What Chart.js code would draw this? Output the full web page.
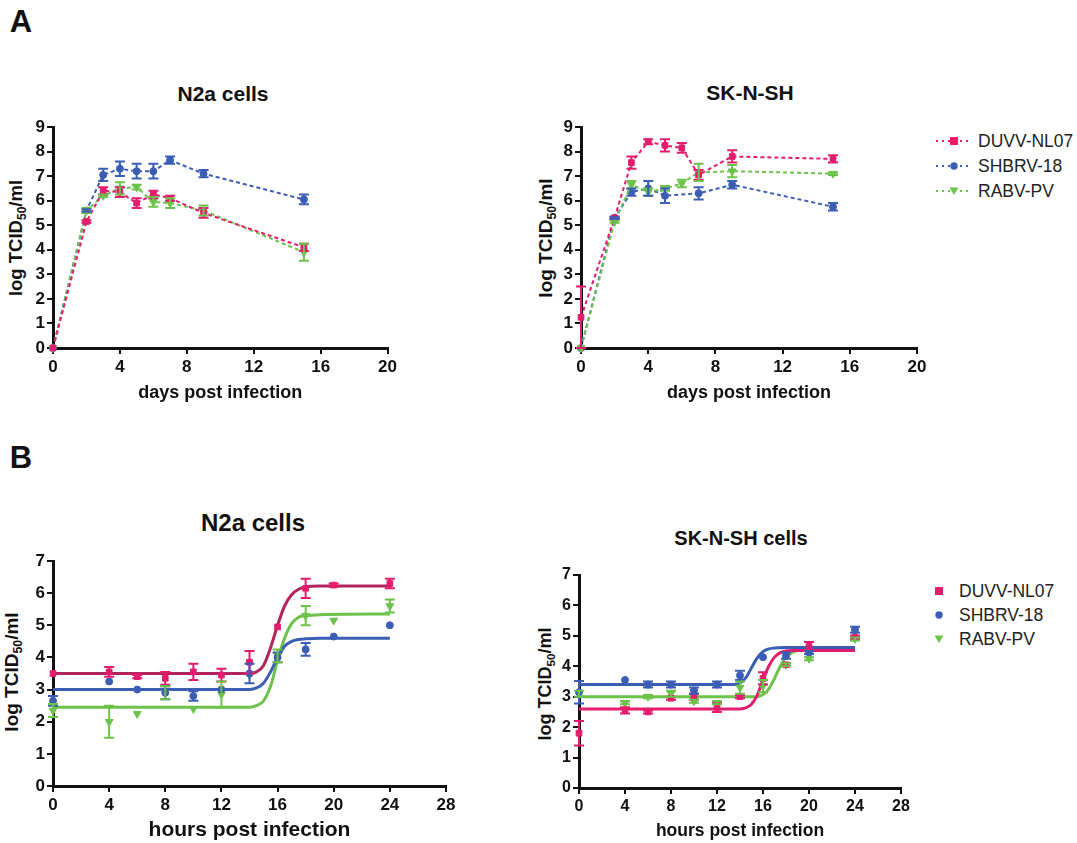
<!DOCTYPE html>
<html>
<head>
<meta charset="utf-8">
<script src="https://cdn.jsdelivr.net/npm/chart.js@4.4.1/dist/chart.umd.min.js"></script>
<style>
  body { margin: 0; background: #fff; font-family: "Liberation Sans", Arial, sans-serif; }
  #page { position: relative; width: 1077px; height: 843px; overflow: hidden; background: #fff; }
  canvas { position: absolute; }
  .txt { position: absolute; transform: translate(-50%, -50%); white-space: nowrap; line-height: 1; color: #111; font-weight: bold; }
  .ytitle { position: absolute; transform: translate(-50%, -50%) rotate(-90deg); white-space: nowrap; line-height: 1; color: #111; font-weight: bold; }
  .ytitle sub { font-size: 65%; vertical-align: baseline; position: relative; top: 0.3em; }
  .legend { position: absolute; color: #222; font-size: 17.5px; }
  .legend .row { position: absolute; left: 0; display: flex; align-items: center; height: 24px; transform: translateY(-50%); white-space: nowrap; }
  .legend svg { margin-right: 6px; }
</style>
</head>
<body>
<div id="page">
  <div class="txt" style="left:21px;top:21px;font-size:31px;">A</div>
  <div class="txt" style="left:21px;top:457px;font-size:31px;">B</div>

  <div class="txt" style="left:223px;top:93px;font-size:21px;">N2a cells</div>
  <div class="txt" style="left:750px;top:92px;font-size:21px;">SK-N-SH</div>
  <div class="txt" style="left:253px;top:523px;font-size:24px;">N2a cells</div>
  <div class="txt" style="left:741px;top:538px;font-size:20px;">SK-N-SH cells</div>

  <div class="ytitle" style="left:16px;top:238px;font-size:18.5px;">log TCID<sub>50</sub>/ml</div>
  <div class="ytitle" style="left:545px;top:238px;font-size:19px;">log TCID<sub>50</sub>/ml</div>
  <div class="ytitle" style="left:11px;top:672px;font-size:19px;">log TCID<sub>50</sub>/ml</div>
  <div class="ytitle" style="left:545px;top:684px;font-size:18px;">log TCID<sub>50</sub>/ml</div>

  <canvas id="aN2a" width="400" height="304" style="left:0px;top:100px;"></canvas>
  <canvas id="aSK" width="410" height="304" style="left:520px;top:100px;"></canvas>
  <canvas id="bN2a" width="460" height="303" style="left:0px;top:540px;"></canvas>
  <canvas id="bSK" width="400" height="292" style="left:520px;top:550px;"></canvas>

  <div class="legend" id="legendA" style="left:936px;top:0px;"></div>
  <div class="legend" id="legendB" style="left:921px;top:0px;"></div>
</div>

<script>
// ---- data ----
const seriesNames = ['DUVV-NL07', 'SHBRV-18', 'RABV-PV'];

// A: growth over days
const days = [0, 2, 3, 4, 5, 6, 7, 9, 15];

const n2aDaysDuvv     = [0, 5.15, 6.4, 6.35, 5.9, 6.25, 6.1, 5.5, 4.1];
const n2aDaysDuvvErr  = [0, 0.05, 0.15, 0.2, 0.2, 0.15, 0.1, 0.2, 0.15];
const n2aDaysShbrv    = [0, 5.6, 7.05, 7.3, 7.2, 7.2, 7.65, 7.1, 6.05];
const n2aDaysShbrvErr = [0, 0.05, 0.25, 0.3, 0.3, 0.3, 0.15, 0.15, 0.2];
const n2aDaysRabv     = [0, 5.6, 6.2, 6.5, 6.55, 5.95, 5.9, 5.6, 3.9];
const n2aDaysRabvErr  = [0, 0.1, 0.05, 0.25, 0.1, 0.2, 0.2, 0.2, 0.35];

const skDaysDuvv      = [1.25, 5.3, 7.55, 8.4, 8.25, 8.15, 7.05, 7.8, 7.7];
const skDaysDuvvErr   = [1.25, 0.05, 0.25, 0.1, 0.25, 0.2, 0.2, 0.25, 0.15];
const skDaysShbrv     = [0, 5.3, 6.35, 6.5, 6.2, null, 6.3, 6.65, 5.75];
const skDaysShbrvErr  = [0, 0.05, 0.15, 0.3, 0.3, 0, 0.25, 0.15, 0.15];
const skDaysRabv      = [0, 5.15, 6.65, 6.35, 6.5, 6.7, 7.15, 7.2, 7.1];
const skDaysRabvErr   = [0, 0.05, 0.15, 0.15, 0.1, 0.15, 0.35, 0.25, 0.05];

// B: one-step growth over hours
const hours = [0, 4, 6, 8, 10, 12, 14, 16, 18, 20, 24];

const n2aHrsDuvv      = [3.5, 3.55, 3.4, 3.35, 3.55, 3.45, 3.85, 4.95, 6.15, 6.25, 6.3];
const n2aHrsDuvvErr   = [0, 0.15, 0.05, 0.2, 0.25, 0.2, 0.35, 0, 0.3, 0.05, 0.15];
const n2aHrsShbrv     = [2.65, 3.25, 3.0, 2.9, 2.8, 3.0, 3.5, 4.0, 4.25, 4.65, 5.0];
const n2aHrsShbrvErr  = [0.15, 0, 0, 0.2, 0.15, 0, 0.3, 0.15, 0.2, 0, 0];
const n2aHrsRabv      = [2.35, 2.0, 2.25, 2.9, 2.4, 2.85, 3.45, 4.05, 5.3, 5.15, 5.6];
const n2aHrsRabvErr   = [0.2, 0.5, 0, 0.2, 0, 0.4, 0, 0.2, 0.3, 0, 0.2];

const skHrsDuvv       = [1.8, 2.55, 2.5, 2.95, 3.0, 2.65, 3.0, 3.6, 4.05, 4.65, 4.95];
const skHrsDuvvErr    = [0.4, 0.1, 0.05, 0.05, 0.1, 0.15, 0.05, 0.2, 0.05, 0.15, 0.05];
const skHrsShbrv      = [3.15, 3.55, 3.4, 3.4, 3.2, 3.4, 3.7, 4.3, 4.35, 4.45, 5.2];
const skHrsShbrvErr   = [0.37, 0, 0.1, 0.1, 0.1, 0.1, 0.15, 0, 0.1, 0.05, 0.1];
const skHrsRabv       = [3.1, 2.8, 3.0, 3.1, 2.85, 2.8, 3.3, 3.35, 4.05, 4.25, 4.9];
const skHrsRabvErr    = [0.1, 0.05, 0.05, 0.1, 0.05, 0.05, 0.2, 0.2, 0.05, 0.05, 0.05];

// fitted sigmoid curves, sampled from the figure
const n2aFitHours  = [0, 14, 14.5, 15, 15.5, 16, 16.5, 17, 17.5, 18, 19, 24];
const n2aFitDuvv   = [3.5, 3.5, 3.55, 3.75, 4.3, 5.0, 5.6, 5.95, 6.12, 6.19, 6.22, 6.22];
const n2aFitShbrv  = [3.0, 3.0, 3.05, 3.2, 3.55, 4.0, 4.35, 4.5, 4.56, 4.58, 4.6, 4.6];
const n2aFitRabv   = [2.45, 2.45, 2.5, 2.65, 3.1, 3.9, 4.6, 5.05, 5.25, 5.3, 5.33, 5.35];

const skFitHours   = [0, 13, 13.5, 14, 14.5, 15, 15.5, 16, 16.5, 17, 17.5, 18, 18.5, 19, 20, 24];
const skFitDuvv    = [2.6, 2.6, 2.6, 2.6, 2.63, 2.75, 3.05, 3.55, 4.0, 4.3, 4.45, 4.5, 4.52, 4.52, 4.52, 4.52];
const skFitShbrv   = [3.4, 3.4, 3.4, 3.45, 3.62, 3.95, 4.28, 4.48, 4.57, 4.6, 4.61, 4.62, 4.62, 4.62, 4.62, 4.62];
const skFitRabv    = [3.0, 3.0, 3.0, 3.0, 3.0, 3.0, 3.0, 3.07, 3.25, 3.6, 4.0, 4.3, 4.45, 4.52, 4.55, 4.55];

// ---- styling ----
const FONT = '"Liberation Sans", Arial, sans-serif';
const PINK = '#e31c6e';
const BLUE = '#3b5db3';
const GREEN = '#6cc24a';
const DARKPINK = '#b2245c';

const styles = [
  { color: PINK,  pointStyle: 'rect',     radius: 4,   rotation: 0 },
  { color: BLUE,  pointStyle: 'circle',   radius: 3.5, rotation: 0 },
  { color: GREEN, pointStyle: 'triangle', radius: 4.5, rotation: 180 }
];

function toXY(xs, ys) {
  return xs.map((x, i) => ({ x: x, y: ys[i] }));
}

// draws vertical error bars with caps using the chart's own scales
const errorBars = {
  id: 'errorBars',
  afterDatasetsDraw(chart) {
    const ctx = chart.ctx;
    const xs = chart.scales.x, ys = chart.scales.y;
    chart.data.datasets.forEach(ds => {
      if (!ds.errors) return;
      ctx.save();
      ctx.strokeStyle = ds.borderColor;
      ctx.lineWidth = 2;
      ds.data.forEach((pt, i) => {
        const e = ds.errors[i];
        if (!e || pt.y == null) return;
        const px = xs.getPixelForValue(pt.x);
        const top = ys.getPixelForValue(pt.y + e);
        const bot = ys.getPixelForValue(Math.max(pt.y - e, 0));
        ctx.beginPath();
        ctx.moveTo(px, top); ctx.lineTo(px, bot);
        ctx.moveTo(px - 5, top); ctx.lineTo(px + 5, top);
        ctx.moveTo(px - 5, bot); ctx.lineTo(px + 5, bot);
        ctx.stroke();
      });
      ctx.restore();
    });
  }
};

function pointSet(i, xs, ys, errs, dashed) {
  const s = styles[i];
  return {
    label: seriesNames[i],
    data: toXY(xs, ys),
    errors: errs,
    showLine: dashed,
    spanGaps: true,
    borderColor: s.color,
    backgroundColor: s.color,
    borderWidth: 2,
    borderDash: dashed ? [4, 3] : [],
    pointStyle: s.pointStyle,
    pointRadius: s.radius,
    pointRotation: s.rotation,
    pointBackgroundColor: s.color,
    pointBorderColor: s.color,
    pointBorderWidth: 1,
    clip: false
  };
}

function fitSet(color, xs, ys) {
  return {
    data: toXY(xs, ys),
    showLine: true,
    borderColor: color,
    borderWidth: 3,
    pointRadius: 0,
    cubicInterpolationMode: 'monotone',
    clip: false
  };
}

function buildOptions(p) {
  return {
    responsive: false,
    animation: false,
    devicePixelRatio: 1,
    layout: { padding: { left: 0, top: p.top, right: p.right, bottom: 0 } },
    plugins: { legend: { display: false }, tooltip: { enabled: false } },
    scales: {
      x: {
        type: 'linear', min: 0, max: p.xMax,
        ticks: { stepSize: p.xStep, color: '#111', padding: 3, maxRotation: 0,
                 font: { size: p.tick, weight: 'bold', family: FONT } },
        grid: { drawOnChartArea: false, color: '#111', lineWidth: 2, tickLength: 6 },
        border: { color: '#111', width: 3 },
        title: { display: true, text: p.xTitle, color: '#111', padding: 0,
                 font: { size: p.xTitleSize, weight: 'bold', family: FONT } },
        afterFit: s => { s.height = p.xHeight; }
      },
      y: {
        type: 'linear', min: 0, max: p.yMax,
        ticks: { stepSize: 1, color: '#111', padding: 2,
                 font: { size: p.tick, weight: 'bold', family: FONT } },
        grid: { drawOnChartArea: false, color: '#111', lineWidth: 2, tickLength: 6 },
        border: { color: '#111', width: 3 },
        afterFit: s => { s.width = p.yWidth; }
      }
    }
  };
}

function makeChart(id, datasets, p) {
  return new Chart(document.getElementById(id), {
    type: 'scatter',
    data: { datasets: datasets },
    options: buildOptions(p),
    plugins: [errorBars]
  });
}

// ---- panel A ----
makeChart('aN2a', [
  pointSet(0, days, n2aDaysDuvv, n2aDaysDuvvErr, true),
  pointSet(2, days, n2aDaysRabv, n2aDaysRabvErr, true),
  pointSet(1, days, n2aDaysShbrv, n2aDaysShbrvErr, true)
], { top: 27, right: 12, yWidth: 53, xHeight: 56, xMax: 20, xStep: 4, yMax: 9,
     tick: 17, xTitle: 'days post infection', xTitleSize: 18 });

makeChart('aSK', [
  pointSet(0, days, skDaysDuvv, skDaysDuvvErr, true),
  pointSet(2, days, skDaysRabv, skDaysRabvErr, true),
  pointSet(1, days, skDaysShbrv, skDaysShbrvErr, true)
], { top: 27, right: 13, yWidth: 61, xHeight: 56, xMax: 20, xStep: 4, yMax: 9,
     tick: 17, xTitle: 'days post infection', xTitleSize: 18 });

// ---- panel B ----
makeChart('bN2a', [
  pointSet(0, hours, n2aHrsDuvv, n2aHrsDuvvErr, false),
  pointSet(1, hours, n2aHrsShbrv, n2aHrsShbrvErr, false),
  pointSet(2, hours, n2aHrsRabv, n2aHrsRabvErr, false),
  fitSet(DARKPINK, n2aFitHours, n2aFitDuvv),
  fitSet(BLUE, n2aFitHours, n2aFitShbrv),
  fitSet(GREEN, n2aFitHours, n2aFitRabv)
], { top: 21, right: 14, yWidth: 53, xHeight: 57, xMax: 28, xStep: 4, yMax: 7,
     tick: 17, xTitle: 'hours post infection', xTitleSize: 21 });

makeChart('bSK', [
  pointSet(0, hours, skHrsDuvv, skHrsDuvvErr, false),
  pointSet(1, hours, skHrsShbrv, skHrsShbrvErr, false),
  pointSet(2, hours, skHrsRabv, skHrsRabvErr, false),
  fitSet(PINK, skFitHours, skFitDuvv),
  fitSet(BLUE, skFitHours, skFitShbrv),
  fitSet(GREEN, skFitHours, skFitRabv)
], { top: 25, right: 19, yWidth: 59, xHeight: 54, xMax: 28, xStep: 4, yMax: 7,
     tick: 16, xTitle: 'hours post infection', xTitleSize: 17.5 });

// ---- legends ----
function markerSvg(i, withLine) {
  const s = styles[i];
  let shape;
  if (s.pointStyle === 'rect') shape = '<rect x="14" y="2" width="8" height="8" fill="' + s.color + '"/>';
  else if (s.pointStyle === 'circle') shape = '<circle cx="18" cy="6" r="3.7" fill="' + s.color + '"/>';
  else shape = '<polygon points="13.5,2.5 22.5,2.5 18,10" fill="' + s.color + '"/>';
  const line = withLine
    ? '<line x1="0" y1="6" x2="36" y2="6" stroke="' + s.color + '" stroke-width="2" stroke-dasharray="2,4"/>'
    : '';
  return '<svg width="36" height="12">' + line + shape + '</svg>';
}

function buildLegend(id, rowsY, withLine, gap) {
  const el = document.getElementById(id);
  seriesNames.forEach((name, i) => {
    const row = document.createElement('div');
    row.className = 'row';
    row.style.top = rowsY[i] + 'px';
    row.innerHTML = markerSvg(i, withLine) + '<span style="margin-left:' + gap + 'px">' + name + '</span>';
    el.appendChild(row);
  });
}

buildLegend('legendA', [141, 166, 191], true, 0);
buildLegend('legendB', [591, 615, 639], false, -4);
</script>
</body>
</html>
